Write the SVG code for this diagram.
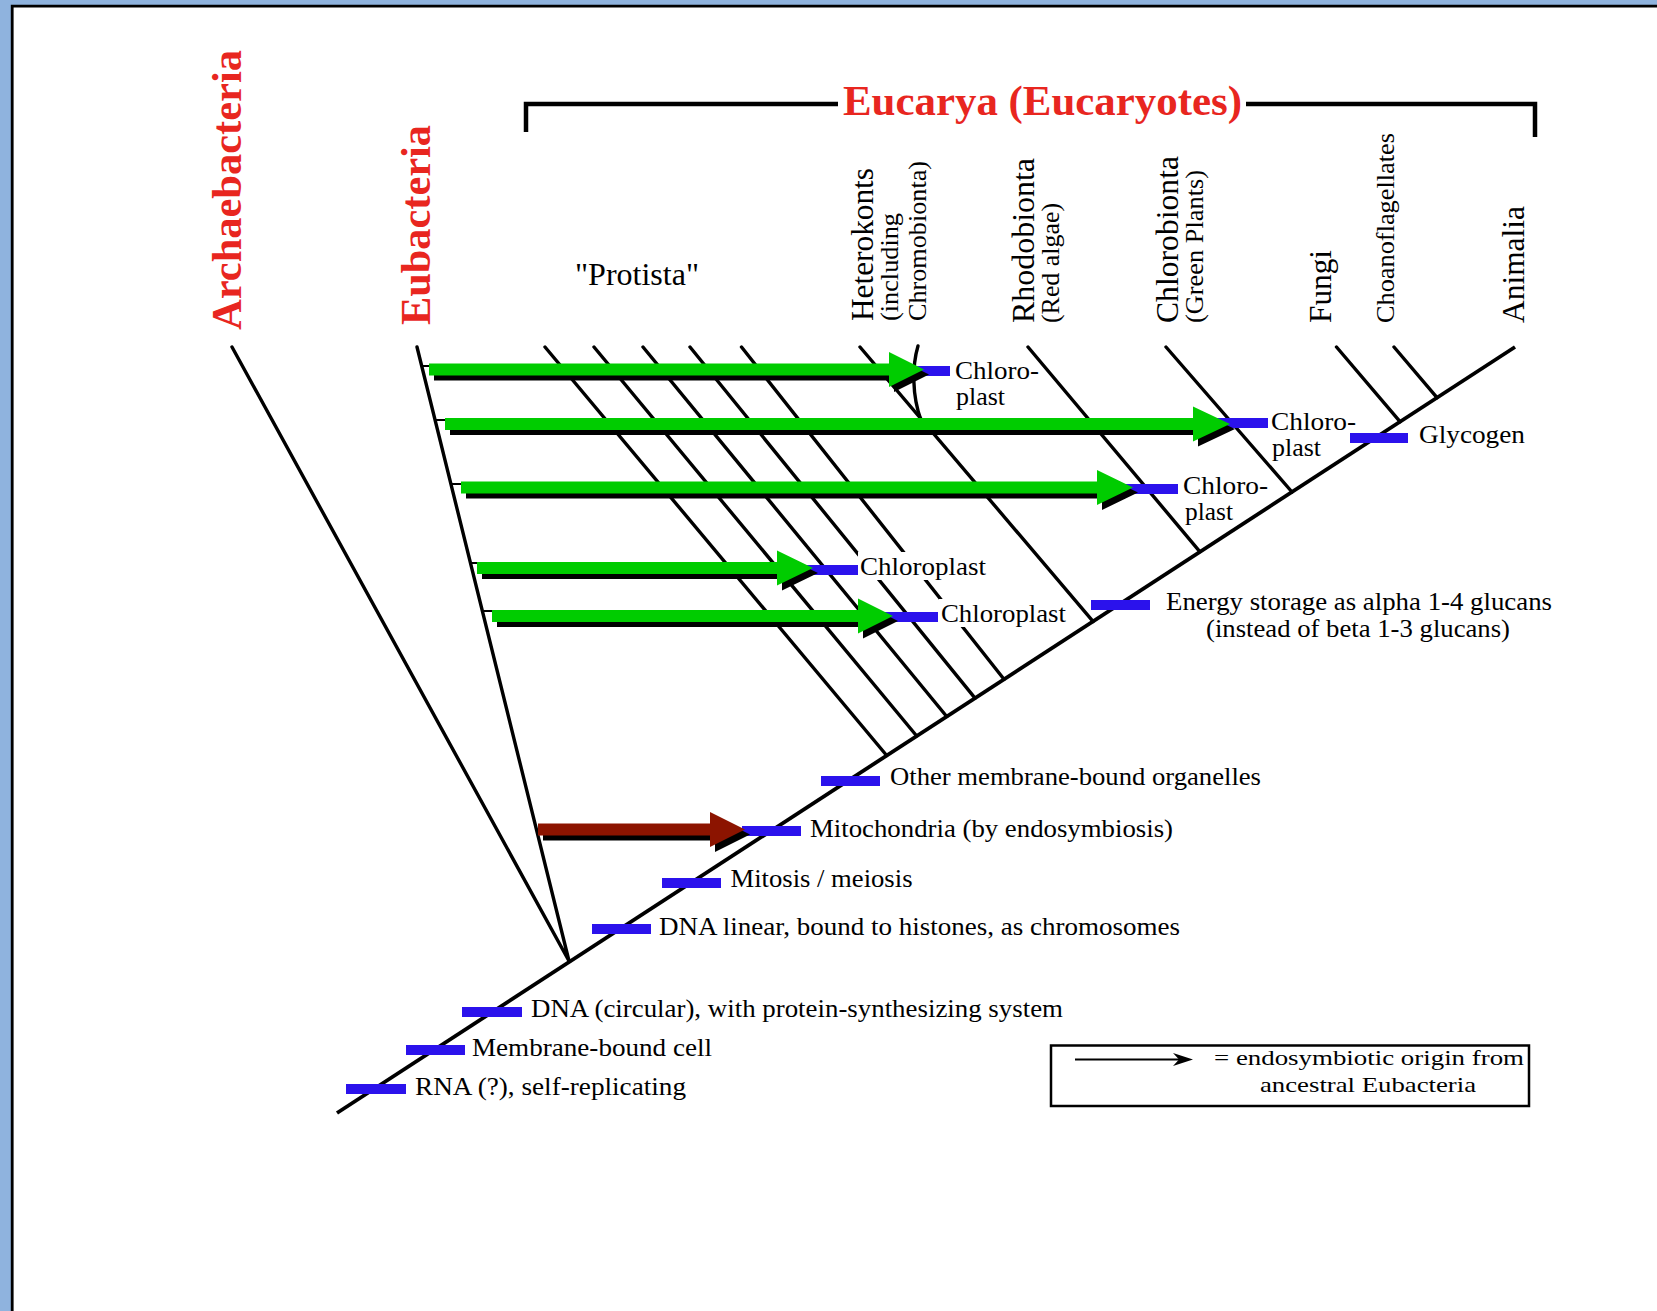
<svg xmlns="http://www.w3.org/2000/svg" width="1657" height="1311" viewBox="0 0 1657 1311">
<style>
.ln{stroke:#000;stroke-width:3.4;fill:none;stroke-linecap:round}
.trunk{stroke:#000;stroke-width:3.8;fill:none}
.bar{fill:#2b12ec}
.gr{fill:#00cc00}
.sh{fill:#000}
.mr{fill:#8c1400}
.red{font-family:"Liberation Serif","Times New Roman",serif;font-weight:bold;fill:#e8261f;font-size:42px}
.vl{font-family:"Liberation Serif","Times New Roman",serif;fill:#000;font-size:31px}
.vs{font-family:"Liberation Serif","Times New Roman",serif;fill:#000;font-size:26px}
.lb{font-family:"Liberation Serif","Times New Roman",serif;fill:#000;font-size:26px}
.lg{font-family:"Liberation Serif","Times New Roman",serif;fill:#000;font-size:21px}
</style>
<rect x="0" y="0" width="1657" height="1311" fill="#8fb3de"/>
<rect x="12" y="6" width="1645" height="1305" fill="#fff"/>
<path d="M12.2 1311 V6.2 H1657" stroke="#000" stroke-width="2.8" fill="none"/>

<g id="title-eucarya">
<path d="M526 132 V104 H838 M1246 104 H1535 V137" stroke="#000" stroke-width="4.5" fill="none"/>
<text class="red" x="843" y="115" textLength="399" lengthAdjust="spacingAndGlyphs">Eucarya (Eucaryotes)</text>
</g>
<g id="archaebacteria"><text class="red" transform="translate(241,330) rotate(-90)" textLength="280" lengthAdjust="spacingAndGlyphs">Archaebacteria</text></g>
<g id="eubacteria"><text class="red" transform="translate(430,325) rotate(-90)" textLength="200" lengthAdjust="spacingAndGlyphs">Eubacteria</text></g>
<g id="protista"><text class="vl" x="575" y="285" textLength="124" lengthAdjust="spacingAndGlyphs">"Protista"</text></g>
<g id="heterokonts">
<text class="vl" transform="translate(873,321) rotate(-90)" textLength="153" lengthAdjust="spacingAndGlyphs">Heterokonts</text>
<text class="vs" transform="translate(898,321) rotate(-90)" textLength="108" lengthAdjust="spacingAndGlyphs">(including</text>
<text class="vs" transform="translate(926,321) rotate(-90)" textLength="160" lengthAdjust="spacingAndGlyphs">Chromobionta)</text>
</g>
<g id="rhodobionta">
<text class="vl" transform="translate(1034,323) rotate(-90)" textLength="165" lengthAdjust="spacingAndGlyphs">Rhodobionta</text>
<text class="vs" transform="translate(1059,323) rotate(-90)" textLength="120" lengthAdjust="spacingAndGlyphs">(Red algae)</text>
</g>
<g id="chlorobionta">
<text class="vl" transform="translate(1178,323) rotate(-90)" textLength="167" lengthAdjust="spacingAndGlyphs">Chlorobionta</text>
<text class="vs" transform="translate(1203,323) rotate(-90)" textLength="153" lengthAdjust="spacingAndGlyphs">(Green Plants)</text>
</g>
<g id="fungi"><text class="vl" transform="translate(1331,323) rotate(-90)" textLength="73" lengthAdjust="spacingAndGlyphs">Fungi</text></g>
<g id="choanoflagellates"><text class="vs" transform="translate(1394,323) rotate(-90)" textLength="190" lengthAdjust="spacingAndGlyphs">Choanoflagellates</text></g>
<g id="animalia"><text class="vl" transform="translate(1524,323) rotate(-90)" textLength="117" lengthAdjust="spacingAndGlyphs">Animalia</text></g>

<g id="connectors">
<path class="trunk" d="M337 1113 L1515 347"/>
<path class="ln" d="M232 347 L569 961 M417 347 L569 961"/>
<path class="ln" d="M545 347 L886.7 755.5 M594 347 L916.7 736 M643 347 L946.7 716.5 M690 347 L975 698.1 M741.5 347 L1004 679.3 M860 347 L1093 621.4 M1028 347 L1200 551.8 M1166 347 L1292 492 M1336.5 347 L1400 421.7 M1394 347 L1437 397.7"/>
<path class="ln" d="M918 346 C912 366 912 396 921 420"/>
<path stroke="#000" stroke-width="2" d="M422 366 H430 M435.5 420 H445 M451.5 484 H461 M471.5 563 H477 M483.5 611 H492"/>
</g>

<g id="label-backgrounds">
<rect x="858" y="552" width="130" height="28" fill="#fff"/>
<rect x="939" y="599" width="129" height="28" fill="#fff"/>
</g>

<g id="trunk-markers">
<rect class="bar" x="821" y="776" width="59" height="10"/>
<rect class="bar" x="742" y="826" width="59" height="10"/>
<rect class="bar" x="662" y="878" width="59" height="10"/>
<rect class="bar" x="592" y="924" width="59" height="10"/>
<rect class="bar" x="462" y="1007" width="60" height="10"/>
<rect class="bar" x="406" y="1045" width="59" height="10"/>
<rect class="bar" x="346" y="1084" width="60" height="10"/>
<rect class="bar" x="1091" y="600" width="59" height="10"/>
<rect class="bar" x="1350" y="433" width="58" height="10"/>
<rect class="bar" x="910" y="366" width="40" height="10"/>
<rect class="bar" x="1212" y="418" width="56" height="10"/>
<rect class="bar" x="1122" y="484" width="56" height="10"/>
<rect class="bar" x="803" y="565" width="55" height="10"/>
<rect class="bar" x="882" y="612" width="56" height="10"/>
</g>

<g id="arrows">
<g id="arrow1"><path class="sh" transform="translate(5,5)" d="M429 363.5 H889 V352 L924 369.5 L889 387 V375.5 H429 Z"/><path class="gr" d="M429 363.5 H889 V352 L924 369.5 L889 387 V375.5 H429 Z"/></g>
<g id="arrow2"><path class="sh" transform="translate(5,5)" d="M445 418 H1193 V406.5 L1230 424 L1193 441.5 V430 H445 Z"/><path class="gr" d="M445 418 H1193 V406.5 L1230 424 L1193 441.5 V430 H445 Z"/></g>
<g id="arrow3"><path class="sh" transform="translate(5,5)" d="M461 481.5 H1097 V470 L1133 487.5 L1097 505 V493.5 H461 Z"/><path class="gr" d="M461 481.5 H1097 V470 L1133 487.5 L1097 505 V493.5 H461 Z"/></g>
<g id="arrow4"><path class="sh" transform="translate(5,5)" d="M477 562 H777 V550.5 L813 568 L777 585.5 V574 H477 Z"/><path class="gr" d="M477 562 H777 V550.5 L813 568 L777 585.5 V574 H477 Z"/></g>
<g id="arrow5"><path class="sh" transform="translate(5,5)" d="M492 610 H858 V598.5 L893 616 L858 633.5 V622 H492 Z"/><path class="gr" d="M492 610 H858 V598.5 L893 616 L858 633.5 V622 H492 Z"/></g>
<g id="arrow-mito"><path class="sh" transform="translate(5,5)" d="M538 823.5 H710 V812 L745 829.5 L710 847 V835.5 H538 Z"/><path class="mr" d="M538 823.5 H710 V812 L745 829.5 L710 847 V835.5 H538 Z"/></g>
</g>

<g id="chloroplast-labels">
<text class="lb" x="955" y="379" textLength="84" lengthAdjust="spacingAndGlyphs">Chloro-</text>
<text class="lb" x="956" y="405" textLength="49" lengthAdjust="spacingAndGlyphs">plast</text>
<text class="lb" x="1271" y="429.5" textLength="85" lengthAdjust="spacingAndGlyphs">Chloro-</text>
<text class="lb" x="1272" y="456" textLength="49" lengthAdjust="spacingAndGlyphs">plast</text>
<text class="lb" x="1183" y="494" textLength="85" lengthAdjust="spacingAndGlyphs">Chloro-</text>
<text class="lb" x="1185" y="520" textLength="48" lengthAdjust="spacingAndGlyphs">plast</text>
<text class="lb" x="860" y="575" textLength="126" lengthAdjust="spacingAndGlyphs">Chloroplast</text>
<text class="lb" x="941" y="621.5" textLength="125" lengthAdjust="spacingAndGlyphs">Chloroplast</text>
</g>

<g id="trunk-labels">
<text class="lb" x="890" y="785" textLength="371" lengthAdjust="spacingAndGlyphs">Other membrane-bound organelles</text>
<text class="lb" x="810" y="836.5" textLength="363" lengthAdjust="spacingAndGlyphs">Mitochondria (by endosymbiosis)</text>
<text class="lb" x="730.5" y="887" textLength="182" lengthAdjust="spacingAndGlyphs">Mitosis / meiosis</text>
<text class="lb" x="659" y="935" textLength="521" lengthAdjust="spacingAndGlyphs">DNA linear, bound to histones, as chromosomes</text>
<text class="lb" x="531" y="1016.5" textLength="532" lengthAdjust="spacingAndGlyphs">DNA (circular), with protein-synthesizing system</text>
<text class="lb" x="472" y="1056" textLength="240" lengthAdjust="spacingAndGlyphs">Membrane-bound cell</text>
<text class="lb" x="415" y="1095" textLength="271" lengthAdjust="spacingAndGlyphs">RNA (?), self-replicating</text>
<text class="lb" x="1166" y="610" textLength="386" lengthAdjust="spacingAndGlyphs">Energy storage as alpha 1-4 glucans</text>
<text class="lb" x="1206" y="636.5" textLength="304" lengthAdjust="spacingAndGlyphs">(instead of beta 1-3 glucans)</text>
<text class="lb" x="1419" y="443" textLength="106" lengthAdjust="spacingAndGlyphs">Glycogen</text>
</g>

<g id="legend">
<rect x="1051" y="1045.5" width="478" height="60.5" fill="none" stroke="#000" stroke-width="2.5"/>
<path d="M1075 1059.5 H1182" stroke="#000" stroke-width="2"/>
<path d="M1173 1053 L1193 1059.5 L1173 1066 L1179 1059.5 Z" fill="#000"/>
<text class="lg" x="1214" y="1065" textLength="310" lengthAdjust="spacingAndGlyphs">= endosymbiotic origin from</text>
<text class="lg" x="1260" y="1092" textLength="216" lengthAdjust="spacingAndGlyphs">ancestral Eubacteria</text>
</g>
</svg>
